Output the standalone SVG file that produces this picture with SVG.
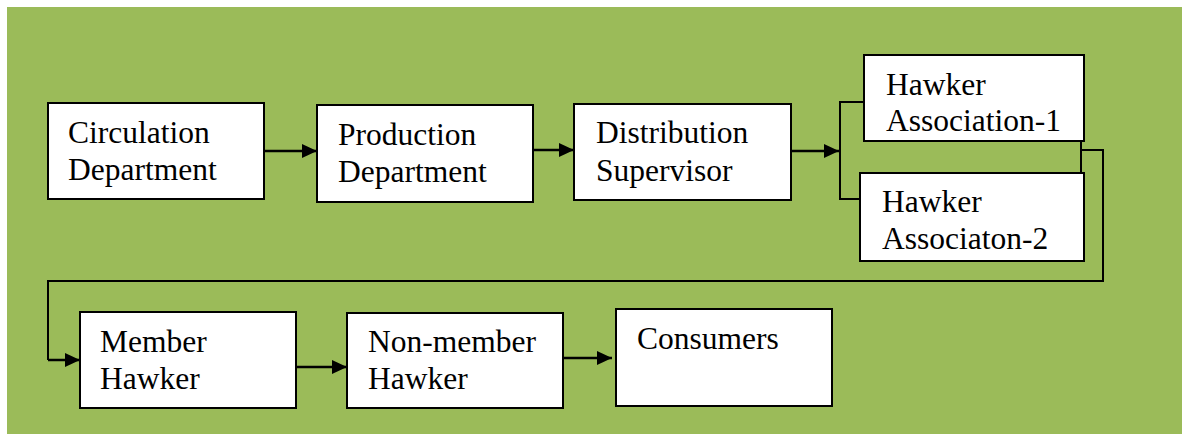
<svg xmlns="http://www.w3.org/2000/svg" width="1182" height="434" viewBox="0 0 1182 434">
<defs>
<style>
.box{fill:#ffffff;stroke:#000000;stroke-width:2}
.t{font-family:"Liberation Serif","Times New Roman",serif;font-size:31.5px;fill:#000000}
.c{fill:none;stroke:#000000;stroke-width:2}
.a{fill:none;stroke:#000000;stroke-width:2.5}
</style>
<marker id="ah" markerWidth="16" markerHeight="14" refX="15" refY="7" orient="auto" markerUnits="userSpaceOnUse">
<path d="M0,0 L15,7 L0,14 Z" fill="#000000"/>
</marker>
</defs>
<rect x="0" y="0" width="1182" height="434" fill="#ffffff"/>
<rect x="7" y="7" width="1175" height="427" fill="#9BBB59"/>
<g id="connectors">
<line class="a" x1="264" y1="151" x2="317" y2="151" marker-end="url(#ah)"/>
<line class="a" x1="533" y1="150" x2="574" y2="150" marker-end="url(#ah)"/>
<line class="a" x1="791" y1="151" x2="839" y2="151" marker-end="url(#ah)"/>
<polyline class="c" points="864,102 840,102 840,199 864,199"/>
<line class="c" x1="1081" y1="141" x2="1081" y2="173"/>
<polyline class="c" points="1081,150 1103,150 1103,281 48,281 48,360"/>
<line class="a" x1="48" y1="360" x2="80" y2="360" marker-end="url(#ah)"/>
<line class="a" x1="296" y1="367" x2="347" y2="367" marker-end="url(#ah)"/>
<line class="a" x1="563" y1="358" x2="612" y2="358" marker-end="url(#ah)"/>
</g>
<g id="circulation">
<rect class="box" x="48" y="103" width="216" height="96"/>
<text class="t" x="68" y="143">Circulation</text>
<text class="t" x="68" y="180">Department</text>
</g>
<g id="production">
<rect class="box" x="317" y="105" width="216" height="97"/>
<text class="t" x="338" y="145">Production</text>
<text class="t" x="338" y="182">Department</text>
</g>
<g id="distribution">
<rect class="box" x="574" y="104" width="217" height="96"/>
<text class="t" x="596" y="143">Distribution</text>
<text class="t" x="596" y="181">Supervisor</text>
</g>
<g id="hawker1">
<rect class="box" x="864" y="55" width="220" height="86"/>
<text class="t" x="886" y="95">Hawker</text>
<text class="t" x="886" y="131">Association-1</text>
</g>
<g id="hawker2">
<rect class="box" x="860" y="173" width="224" height="88"/>
<text class="t" x="882" y="212">Hawker</text>
<text class="t" x="882" y="249">Associaton-2</text>
</g>
<g id="member">
<rect class="box" x="80" y="312" width="216" height="96"/>
<text class="t" x="100" y="352">Member</text>
<text class="t" x="100" y="389">Hawker</text>
</g>
<g id="nonmember">
<rect class="box" x="347" y="313" width="216" height="95"/>
<text class="t" x="368" y="352">Non-member</text>
<text class="t" x="368" y="389">Hawker</text>
</g>
<g id="consumers">
<rect class="box" x="616" y="309" width="216" height="97"/>
<text class="t" x="637" y="349">Consumers</text>
</g>
</svg>
